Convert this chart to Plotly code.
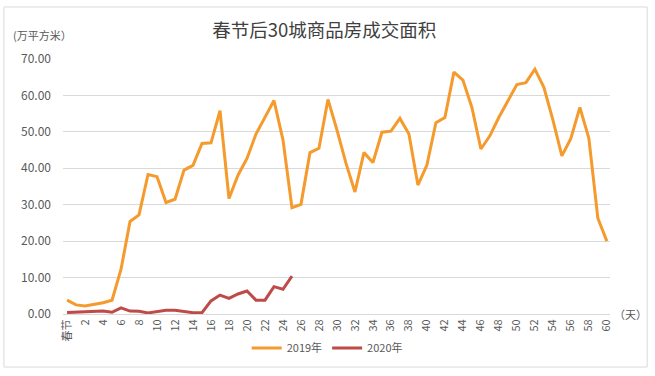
import plotly.graph_objects as go

days = list(range(0, 61))
tick_vals = list(range(0, 61, 2))
tick_text = ["春节"] + [str(v) for v in range(2, 61, 2)]

sales_2019 = [3.8, 2.5, 2.2, 2.6, 3.1, 3.8, 12.3, 25.4, 27.2, 38.3,
              37.7, 30.6, 31.5, 39.5, 40.8, 46.8, 47.0, 55.8, 31.7, 38.1,
              42.7, 49.4, 54.0, 58.6, 47.8, 29.2, 30.1, 44.3, 45.5, 58.9,
              50.5, 41.4, 33.5, 44.3, 41.6, 49.9, 50.2, 53.7, 49.4, 35.4,
              40.9, 52.5, 53.9, 66.4, 64.2, 56.7, 45.3, 48.9, 54.0, 58.3,
              63.0, 63.5, 67.2, 62.2, 53.3, 43.4, 48.2, 56.7, 48.2, 26.3,
              20.0]
sales_2020 = [0.4, 0.55, 0.64, 0.75, 0.82, 0.46, 1.7, 0.8, 0.73, 0.3,
              0.73, 1.0, 1.0, 0.64, 0.36, 0.36, 3.6, 5.2, 4.3, 5.5,
              6.3, 3.8, 3.8, 7.5, 6.8, 10.4]

fig = go.Figure()
fig.add_trace(go.Scatter(x=days, y=sales_2019, mode="lines", name="2019年",
                         line=dict(color="#F59A2C", width=3)))
fig.add_trace(go.Scatter(x=days[:len(sales_2020)], y=sales_2020, mode="lines", name="2020年",
                         line=dict(color="#BE4B48", width=3)))

font_family = "Noto Sans CJK SC, Noto Sans, sans-serif"
grey = "#595959"

fig.update_layout(
    width=655, height=376,
    margin=dict(l=63, r=45, t=59, b=62, autoexpand=False),
    paper_bgcolor="white", plot_bgcolor="white",
    font=dict(family=font_family, size=11, color=grey),
    title=dict(text="春节后30城商品房成交面积", x=0.495, xanchor="center",
               y=1 - 31 / 376, yanchor="middle",
               font=dict(size=18.5, color="#404040", family=font_family)),
    showlegend=True,
    legend=dict(orientation="h", x=0.483, xanchor="center", y=-0.133, yanchor="middle",
                font=dict(size=11, color=grey), itemwidth=30),
    xaxis=dict(range=[-0.45, 60.35], tickmode="array", tickvals=tick_vals, ticktext=tick_text,
               tickangle=-90, showgrid=False, zeroline=False, showline=True, automargin=False,
               linecolor="#D9D9D9", linewidth=1, ticks="", tickfont=dict(size=11, color=grey)),
    yaxis=dict(range=[0, 70], dtick=10, tickformat=".2f", showgrid=True, gridcolor="#D9D9D9",
               gridwidth=1, zeroline=False, showline=False, ticks="", ticklabelstandoff=11,
               automargin=False, tickfont=dict(size=12, color=grey)),
    annotations=[
        dict(text="(万平方米）", xref="paper", yref="paper", x=-0.095, y=1.094,
             xanchor="left", yanchor="middle", showarrow=False,
             font=dict(size=11, color=grey)),
        dict(text="（天）", xref="paper", yref="paper", x=1.003, y=0.0,
             xanchor="left", yanchor="middle", showarrow=False,
             font=dict(size=11, color=grey)),
    ],
    shapes=[dict(type="rect", xref="paper", yref="paper", x0=-0.108, x1=1.068,
                 y0=-0.208, y1=1.204, line=dict(color="#D9D9D9", width=1),
                 fillcolor="rgba(0,0,0,0)", layer="below")],
)

fig.write_html("out.html", config={"displayModeBar": False},
               post_script="document.body.style.margin='0px';document.body.style.overflow='hidden';")
